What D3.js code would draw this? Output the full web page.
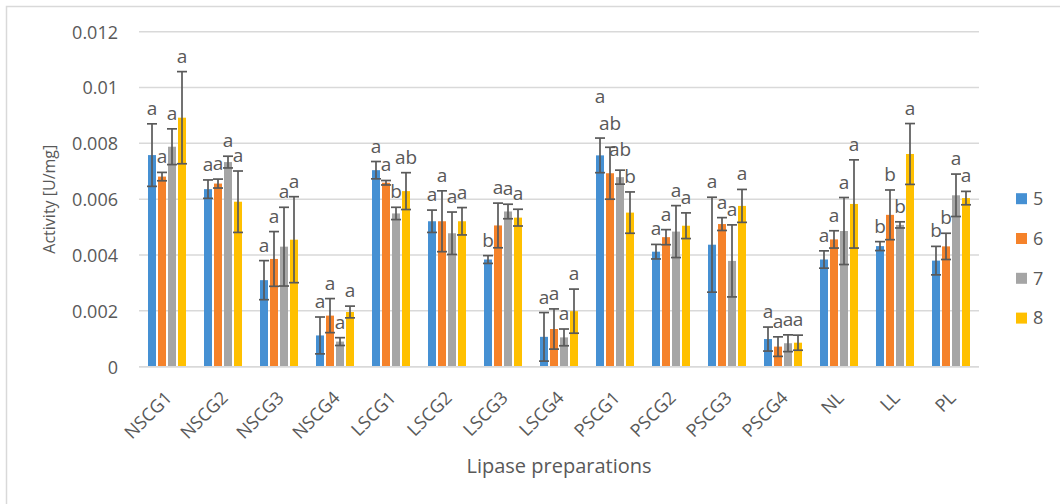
<!DOCTYPE html>
<html>
<head>
<meta charset="utf-8">
<script src="https://cdn.jsdelivr.net/npm/d3@7"></script>
<style>
  html, body { margin: 0; padding: 0; background: #fff; }
  svg { display: block; font-family: "Open Sans", "Noto Sans", sans-serif; }
</style>
</head>
<body>
<svg id="chart" width="1060" height="504"></svg>
<script>
// Lipase preparations on the x axis
const categories = ["NSCG1", "NSCG2", "NSCG3", "NSCG4", "LSCG1", "LSCG2", "LSCG3", "LSCG4",
                    "PSCG1", "PSCG2", "PSCG3", "PSCG4", "NL", "LL", "PL"];
const seriesNames = ["5", "6", "7", "8"];

// Mean activity [U/mg] per series
const values5 = [0.00758, 0.00636, 0.00310, 0.00112, 0.00704, 0.00521, 0.00384, 0.00107, 0.00757, 0.00412, 0.00437, 0.00099, 0.00384, 0.00432, 0.00380];
const values6 = [0.00681, 0.00656, 0.00386, 0.00183, 0.00659, 0.00521, 0.00506, 0.00135, 0.00693, 0.00464, 0.00511, 0.00072, 0.00456, 0.00544, 0.00431];
const values7 = [0.00788, 0.00733, 0.00430, 0.00090, 0.00549, 0.00478, 0.00556, 0.00105, 0.00679, 0.00484, 0.00379, 0.00084, 0.00486, 0.00508, 0.00614];
const values8 = [0.00892, 0.00591, 0.00455, 0.00196, 0.00629, 0.00521, 0.00534, 0.00199, 0.00552, 0.00505, 0.00576, 0.00086, 0.00583, 0.00762, 0.00604];

// Standard deviations (symmetric error bars)
const errors5 = [0.00112, 0.00033, 0.00070, 0.00066, 0.00031, 0.00040, 0.00014, 0.00087, 0.00062, 0.00026, 0.00170, 0.00043, 0.00031, 0.00016, 0.00051];
const errors6 = [0.00015, 0.00016, 0.00098, 0.00061, 0.00008, 0.00109, 0.00080, 0.00072, 0.00093, 0.00027, 0.00023, 0.00035, 0.00031, 0.00089, 0.00047];
const errors7 = [0.00064, 0.00021, 0.00141, 0.00014, 0.00022, 0.00076, 0.00026, 0.00030, 0.00025, 0.00093, 0.00129, 0.00030, 0.00120, 0.00011, 0.00076];
const errors8 = [0.00165, 0.00110, 0.00154, 0.00021, 0.00066, 0.00049, 0.00030, 0.00079, 0.00074, 0.00046, 0.00059, 0.00027, 0.00158, 0.00109, 0.00024];

// Significance letters
const letters5 = ["a", "a", "a", "a", "a", "a", "b", "a", "a", "a", "a", "a", "a", "b", "b"];
const letters6 = ["a", "a", "a", "a", "a", "a", "a", "a", "ab", "a", "a", "a", "a", "b", "b"];
const letters7 = ["a", "a", "a", "a", "b", "a", "a", "a", "ab", "a", "a", "a", "a", "b", "a"];
const letters8 = ["a", "a", "a", "a", "ab", "a", "a", "a", "b", "a", "a", "a", "a", "a", "a"];

const yTicks = [0, 0.002, 0.004, 0.006, 0.008, 0.01, 0.012];
const yTickLabels = ["0", "0.002", "0.004", "0.006", "0.008", "0.01", "0.012"];

const colors = ["#4590d3", "#f5822a", "#a5a5a5", "#ffc000"];

const seriesValues = [values5, values6, values7, values8];
const seriesErrors = [errors5, errors6, errors7, errors8];
const seriesLetters = [letters5, letters6, letters7, letters8];

const svg = d3.select("#chart");
const textColor = "#595959";
const gridColor = "#d9d9d9";

// chart frame
svg.append("rect")
  .attr("x", 6.5).attr("y", 6.5)
  .attr("width", 1070).attr("height", 520)
  .attr("fill", "#fff").attr("stroke", gridColor).attr("stroke-width", 1.5);

const plot = { left: 139, right: 979, top: 31.7, bottom: 366.7 };

const x = d3.scaleBand().domain(categories).range([plot.left, plot.right]).paddingInner(0.2857).paddingOuter(0.1429);
const xs = d3.scaleBand().domain(seriesNames).range([0, x.bandwidth()]).paddingInner(0.2).paddingOuter(0.1);
const y = d3.scaleLinear().domain([0, 0.012]).range([plot.bottom, plot.top]);

// gridlines
svg.append("g").selectAll("line").data(yTicks).join("line")
  .attr("x1", plot.left).attr("x2", plot.right)
  .attr("y1", d => y(d)).attr("y2", d => y(d))
  .attr("stroke", gridColor).attr("stroke-width", 1.5);

// y axis labels
const yAxis = d3.axisLeft(y).tickValues(yTicks).tickFormat((d, i) => yTickLabels[i]).tickSize(0).tickPadding(0);
const yG = svg.append("g").attr("transform", `translate(118,0)`).call(yAxis);
yG.select(".domain").remove();
yG.selectAll("text").attr("fill", textColor).attr("font-size", 18)
  .attr("font-family", "'Open Sans', sans-serif").attr("dy", "0.35em");

// rows of data for bars
const rows = [];
categories.forEach((c, i) => {
  seriesNames.forEach((s, k) => {
    rows.push({ cat: c, series: s, k, value: seriesValues[k][i], err: seriesErrors[k][i], letter: seriesLetters[k][i] });
  });
});

const barX = d => x(d.cat) + xs(d.series);
const barW = xs.bandwidth();

svg.append("g").selectAll("rect").data(rows).join("rect")
  .attr("x", barX).attr("width", barW)
  .attr("y", d => y(d.value)).attr("height", d => y(0) - y(d.value))
  .attr("fill", d => colors[d.k]);

// x axis baseline
svg.append("line")
  .attr("x1", plot.left).attr("x2", plot.right)
  .attr("y1", y(0)).attr("y2", y(0))
  .attr("stroke", gridColor).attr("stroke-width", 1.5);

// error bars
const errG = svg.append("g").attr("stroke", "#595959").attr("stroke-width", 1.7);
rows.forEach(d => {
  const cx = barX(d) + barW / 2;
  const y1 = y(d.value + d.err), y2 = y(Math.max(0, d.value - d.err));
  errG.append("line").attr("x1", cx).attr("x2", cx).attr("y1", y1).attr("y2", y2);
  errG.append("line").attr("x1", cx - 5).attr("x2", cx + 5).attr("y1", y1).attr("y2", y1);
  errG.append("line").attr("x1", cx - 5).attr("x2", cx + 5).attr("y1", y2).attr("y2", y2);
});

// significance letters, placed above each error bar
const labels = svg.append("g").selectAll("text").data(rows).join("text")
  .attr("x", d => barX(d) + barW / 2)
  .attr("y", d => y(d.value + d.err) - 9)
  .attr("text-anchor", "middle")
  .attr("font-size", 19).attr("fill", textColor)
  .text(d => d.letter);

// lift a letter above its right-hand neighbours when their boxes collide
categories.forEach(c => {
  const group = labels.filter(d => d.cat === c).nodes();
  const placed = [];
  for (let i = group.length - 1; i >= 0; i--) {
    const node = group[i];
    let b = node.getBBox();
    let moved = true;
    while (moved) {
      moved = false;
      for (const p of placed) {
        const overlapX = b.x < p.x + p.width - 2 && p.x < b.x + b.width - 2;
        const overlapY = b.y < p.y + p.height && p.y < b.y + b.height;
        if (overlapX && overlapY) {
          const cur = +node.getAttribute("y");
          node.setAttribute("y", cur - ((b.y + b.height) - p.y) - 0.5);
          b = node.getBBox();
          moved = true;
        }
      }
    }
    placed.push(b);
  }
});

// category labels
svg.append("g").selectAll("text").data(categories).join("text")
  .attr("transform", d => `translate(${x(d) + x.bandwidth() / 2 + 6},399) rotate(-45)`)
  .attr("text-anchor", "end")
  .attr("font-size", 18).attr("fill", textColor)
  .text(d => d);

// axis titles
svg.append("text")
  .attr("x", (plot.left + plot.right) / 2).attr("y", 473)
  .attr("text-anchor", "middle").attr("font-size", 20).attr("fill", textColor)
  .text("Lipase preparations");

svg.append("text")
  .attr("transform", `translate(55,${(plot.top + plot.bottom) / 2}) rotate(-90)`)
  .attr("text-anchor", "middle").attr("font-size", 16).attr("fill", textColor)
  .text("Activity [U/mg]");

// legend
const legend = svg.append("g").selectAll("g").data(seriesNames).join("g")
  .attr("transform", (d, i) => `translate(1016,${198.7 + i * 39.8})`);
legend.append("rect").attr("x", 0).attr("y", -5.5).attr("width", 11).attr("height", 11)
  .attr("fill", (d, i) => colors[i]);
legend.append("text").attr("x", 17).attr("y", 0).attr("dy", "0.35em")
  .attr("font-size", 18).attr("fill", textColor).text(d => d);
</script>
</body>
</html>
